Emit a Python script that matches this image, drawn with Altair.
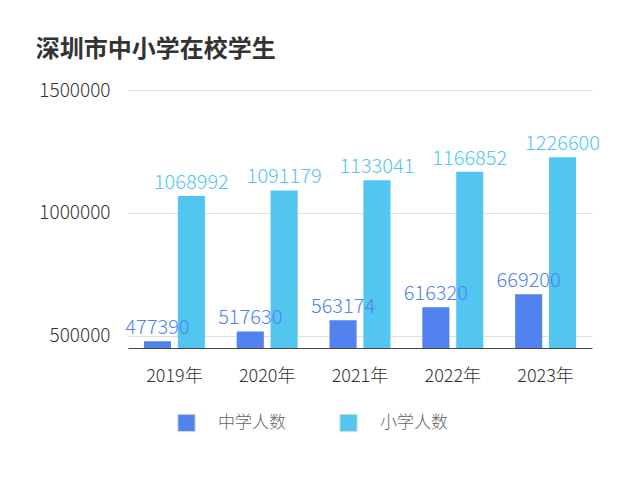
import altair as alt
import pandas as pd

years = ["2019年", "2020年", "2021年", "2022年", "2023年"]
middle = [477390, 517630, 563174, 616320, 669200]
primary = [1068992, 1091179, 1133041, 1166852, 1226600]
series = ["中学人数", "小学人数"]
colors = ["#5182ee", "#53c6ef"]

rows = []
for y, m, p in zip(years, middle, primary):
    rows.append({"year": y, "series": series[0], "value": m})
    rows.append({"year": y, "series": series[1], "value": p})
df = pd.DataFrame(rows)

FONT = "Noto Sans CJK SC"

x = alt.X("year:N", sort=years, title=None,
          scale=alt.Scale(paddingInner=0, paddingOuter=0),
          axis=alt.Axis(labelAngle=0, labelFontSize=18, labelColor="#333333",
                        labelPadding=19, ticks=False, domainColor="#444444",
                        labelFont=FONT, labelFontWeight=300, grid=False))
xo = alt.XOffset("series:N", sort=series,
                 scale=alt.Scale(paddingInner=0.2, paddingOuter=0.47))
y = alt.Y("value:Q", title=None,
          scale=alt.Scale(domain=[450000, 1500000], nice=False, zero=False),
          axis=alt.Axis(values=[500000, 1000000, 1500000], format="d",
                        labelFontSize=19, labelColor="#333333", labelPadding=18,
                        ticks=False, domain=False, gridColor="#e0e0e0",
                        labelFont=FONT, labelFontWeight=300))
color = alt.Color("series:N", sort=series,
                  scale=alt.Scale(domain=series, range=colors),
                  legend=alt.Legend(title=None, orient="none", legendX=49, legendY=323,
                                    direction="horizontal", symbolType="square",
                                    symbolSize=300, symbolStrokeColor="#dddddd",
                                    symbolStrokeWidth=1, labelFontSize=17,
                                    labelColor="#666666", labelOffset=22,
                                    columnPadding=51, labelFont=FONT,
                                    labelFontWeight=300, padding=0))

bars = alt.Chart(df).mark_bar(clip=True).encode(x=x, xOffset=xo, y=y, color=color)
labels = alt.Chart(df).mark_text(baseline="bottom", dy=-3, fontSize=20, font=FONT,
                                 fontWeight=300).encode(
    x=x, xOffset=xo, y=y, text=alt.Text("value:Q", format="d"),
    color=alt.Color("series:N", sort=series, scale=alt.Scale(domain=series, range=colors),
                    legend=None))

chart = (bars + labels).properties(
    width=464, height=258,
    title=alt.TitleParams("深圳市中小学在校学生", anchor="start", dx=-3, offset=19,
                          fontSize=24, fontWeight="bold", color="#333333", font=FONT),
    autosize=alt.AutoSizeParams(type="none"),
    padding={"left": 120, "top": 82, "right": 20, "bottom": 120},
).configure_view(stroke=None)

chart.save("out.html", embed_options={"renderer": "svg", "actions": False})
